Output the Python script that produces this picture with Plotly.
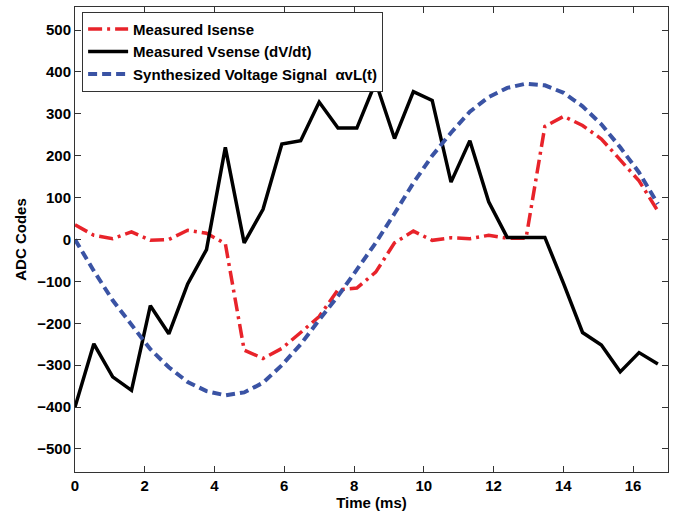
import plotly.graph_objects as go

# Sample times (ms)
time_ms = [0.00, 0.54, 1.08, 1.62, 2.16, 2.69, 3.23, 3.77, 4.31, 4.85, 5.39, 5.93,
           6.47, 7.00, 7.54, 8.08, 8.62, 9.16, 9.70, 10.24, 10.78, 11.32, 11.86,
           12.39, 12.93, 13.47, 14.01, 14.55, 15.09, 15.63, 16.17, 16.71]

isense = [35, 10, 2, 18, -2, 0, 22, 15, -10, -264, -284, -260,
          -222, -184, -120, -116, -78, -8, 20, -2, 4, 2, 10,
          3, 3, 270, 294, 272, 240, 190, 140, 68]

vsense = [-400, -249, -328, -360, -158, -225, -106, -24, 220, -8, 72, 228,
          236, 328, 266, 266, 376, 241, 353, 332, 137, 236, 90,
          5, 5, 5, -106, -222, -252, -316, -270, -297]

synth = [0, -75, -145, -205, -262, -305, -340, -362, -372, -365, -342, -300,
         -250, -192, -135, -72, -8, 62, 135, 200, 255, 305, 340,
         362, 372, 368, 350, 318, 275, 220, 160, 85]

x_ticks = [0, 2, 4, 6, 8, 10, 12, 14, 16]
y_ticks = [-500, -400, -300, -200, -100, 0, 100, 200, 300, 400, 500]

names = ["Measured Isense", "Measured Vsense (dV/dt)",
         "Synthesized Voltage Signal  \u03b1vL(t)"]

FONT = "Liberation Sans, Arial, Helvetica, sans-serif"

fig = go.Figure()
fig.add_trace(go.Scatter(x=time_ms, y=isense, mode="lines", name=names[0],
                         line=dict(color="#e8232a", width=3.5, dash="14px,5px,3px,5px")))
fig.add_trace(go.Scatter(x=time_ms, y=vsense, mode="lines", name=names[1],
                         line=dict(color="#000000", width=3.5)))
fig.add_trace(go.Scatter(x=time_ms, y=synth, mode="lines", name=names[2],
                         line=dict(color="#3a53a4", width=4, dash="9px,5px")))

axis_common = dict(
    showline=True, linecolor="#333333", linewidth=1, mirror="ticks",
    ticks="inside", ticklen=6, tickcolor="#333333", tickwidth=1,
    showgrid=False, zeroline=False,
    tickfont=dict(family=FONT, size=15, color="black", weight="bold"),
)

fig.update_layout(
    width=674, height=515,
    margin=dict(l=75, r=6, t=7, b=43),
    paper_bgcolor="white", plot_bgcolor="white",
    font=dict(family=FONT, color="black"),
    xaxis=dict(range=[0, 17], tickvals=x_ticks,
               title=dict(text="Time (ms)", standoff=2,
                          font=dict(family=FONT, size=15, weight="bold")),
               **axis_common),
    yaxis=dict(range=[-555, 555], tickvals=y_ticks,
               title=dict(text="ADC Codes", standoff=6,
                          font=dict(family=FONT, size=15, weight="bold")),
               **axis_common),
    legend=dict(x=0.012, y=0.99, xanchor="left", yanchor="top",
                bgcolor="white", bordercolor="#333333", borderwidth=1,
                font=dict(family=FONT, size=15, color="black", weight="bold"),
                itemwidth=40, tracegroupgap=0),
    showlegend=True,
)

fig.write_html("out.html")
